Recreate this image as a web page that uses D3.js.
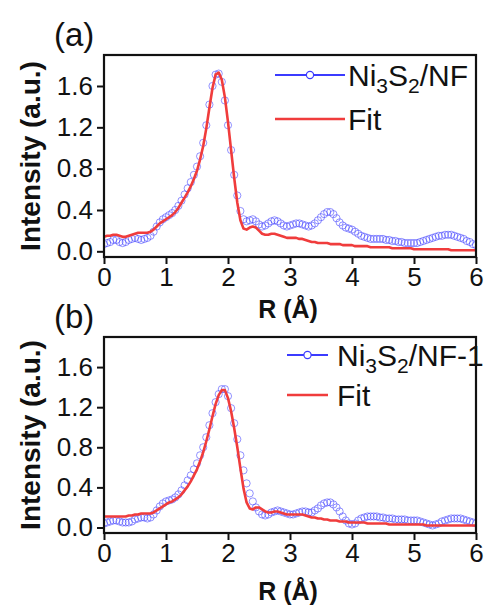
<!DOCTYPE html>
<html><head><meta charset="utf-8">
<script src="https://cdn.jsdelivr.net/npm/d3@7"></script>
<style>body{margin:0;background:#fff}svg{display:block}text{font-family:"Liberation Sans",Arial,sans-serif;fill:#111}</style>
</head><body>
<svg id="c" width="491" height="607"></svg>
<script>
const R = [0.00,0.05,0.10,0.15,0.20,0.25,0.30,0.35,0.40,0.45,0.50,0.55,0.60,0.65,0.70,0.75,0.80,0.85,0.90,0.95,
1.00,1.05,1.10,1.15,1.20,1.25,1.30,1.35,1.40,1.45,1.50,1.55,1.60,1.65,1.70,1.75,1.80,1.85,1.90,1.95,
2.00,2.05,2.10,2.15,2.20,2.25,2.30,2.35,2.40,2.45,2.50,2.55,2.60,2.65,2.70,2.75,2.80,2.85,2.90,2.95,
3.00,3.05,3.10,3.15,3.20,3.25,3.30,3.35,3.40,3.45,3.50,3.55,3.60,3.65,3.70,3.75,3.80,3.85,3.90,3.95,
4.00,4.05,4.10,4.15,4.20,4.25,4.30,4.35,4.40,4.45,4.50,4.55,4.60,4.65,4.70,4.75,4.80,4.85,4.90,4.95,
5.00,5.05,5.10,5.15,5.20,5.25,5.30,5.35,5.40,5.45,5.50,5.55,5.60,5.65,5.70,5.75,5.80,5.85,5.90,5.95,6.00];

const dataA = [0.07,0.08,0.09,0.11,0.11,0.09,0.08,0.09,0.11,0.12,0.13,0.12,0.11,0.12,0.13,0.15,0.19,0.24,0.28,0.31,
0.33,0.35,0.37,0.40,0.44,0.49,0.55,0.61,0.67,0.74,0.82,0.92,1.05,1.22,1.42,1.60,1.71,1.72,1.64,1.46,
1.22,0.98,0.74,0.54,0.39,0.31,0.29,0.30,0.31,0.29,0.26,0.24,0.25,0.27,0.29,0.30,0.29,0.27,0.25,0.24,
0.25,0.26,0.27,0.27,0.26,0.25,0.24,0.25,0.27,0.30,0.33,0.36,0.38,0.38,0.36,0.32,0.28,0.25,0.23,0.22,
0.21,0.19,0.17,0.15,0.14,0.13,0.12,0.12,0.12,0.12,0.12,0.11,0.11,0.10,0.10,0.09,0.09,0.08,0.08,0.08,
0.08,0.08,0.09,0.10,0.11,0.12,0.13,0.14,0.15,0.15,0.16,0.16,0.16,0.15,0.14,0.13,0.12,0.10,0.09,0.07,0.06];

const fitA = [0.14,0.15,0.15,0.16,0.16,0.15,0.14,0.14,0.15,0.16,0.17,0.18,0.18,0.18,0.18,0.19,0.21,0.24,0.27,0.29,
0.31,0.33,0.35,0.38,0.42,0.47,0.52,0.57,0.63,0.70,0.78,0.89,1.02,1.19,1.39,1.58,1.71,1.73,1.66,1.49,
1.25,0.98,0.71,0.47,0.30,0.22,0.21,0.23,0.24,0.23,0.20,0.17,0.16,0.16,0.17,0.17,0.16,0.15,0.14,0.13,
0.13,0.13,0.13,0.12,0.12,0.11,0.10,0.09,0.09,0.08,0.08,0.08,0.08,0.07,0.07,0.07,0.07,0.06,0.06,0.06,
0.06,0.05,0.05,0.05,0.05,0.05,0.04,0.04,0.04,0.04,0.04,0.04,0.04,0.03,0.03,0.03,0.03,0.03,0.03,0.03,
0.02,0.02,0.02,0.02,0.02,0.02,0.02,0.02,0.02,0.02,0.02,0.02,0.01,0.01,0.01,0.01,0.01,0.01,0.01,0.01,0.01];

const dataB = [0.04,0.05,0.06,0.07,0.07,0.06,0.05,0.05,0.05,0.06,0.08,0.09,0.10,0.10,0.09,0.10,0.13,0.17,0.21,0.24,
0.26,0.27,0.28,0.30,0.33,0.37,0.42,0.47,0.52,0.58,0.64,0.72,0.80,0.90,1.02,1.14,1.25,1.33,1.38,1.38,
1.31,1.19,1.04,0.88,0.72,0.57,0.44,0.34,0.26,0.20,0.16,0.13,0.12,0.13,0.15,0.16,0.17,0.16,0.15,0.14,
0.13,0.13,0.14,0.15,0.16,0.16,0.15,0.15,0.17,0.19,0.22,0.24,0.25,0.25,0.23,0.20,0.16,0.11,0.07,0.04,
0.03,0.04,0.07,0.09,0.10,0.11,0.11,0.11,0.11,0.10,0.10,0.09,0.09,0.09,0.08,0.08,0.08,0.08,0.07,0.07,
0.07,0.07,0.06,0.05,0.04,0.03,0.02,0.03,0.04,0.06,0.07,0.08,0.09,0.09,0.09,0.09,0.08,0.07,0.06,0.05,0.04];

const fitB = [0.11,0.11,0.11,0.11,0.11,0.11,0.11,0.11,0.12,0.12,0.13,0.13,0.14,0.14,0.14,0.14,0.15,0.17,0.19,0.21,
0.23,0.25,0.26,0.28,0.30,0.33,0.37,0.41,0.46,0.52,0.58,0.66,0.75,0.86,0.98,1.11,1.23,1.32,1.37,1.37,
1.29,1.16,0.99,0.80,0.59,0.39,0.25,0.19,0.18,0.20,0.20,0.18,0.16,0.15,0.15,0.16,0.16,0.15,0.14,0.13,
0.13,0.13,0.13,0.13,0.13,0.12,0.11,0.10,0.10,0.09,0.09,0.08,0.08,0.07,0.07,0.07,0.06,0.06,0.06,0.05,
0.05,0.05,0.05,0.05,0.05,0.04,0.04,0.04,0.04,0.04,0.04,0.04,0.03,0.03,0.03,0.03,0.03,0.03,0.03,0.03,
0.03,0.03,0.03,0.03,0.02,0.02,0.02,0.02,0.02,0.02,0.02,0.02,0.02,0.02,0.02,0.02,0.02,0.02,0.02,0.02,0.02];

const xTicks = [0,1,2,3,4,5,6];
const yTicks = [0.0,0.4,0.8,1.2,1.6];
const panelLabels = ["(a)","(b)"];
const sampleNames = [["Ni","3","S","2","/NF"],["Ni","3","S","2","/NF-1"]];
const fitLabel = "Fit";
const xTitle = "R (Å)";
const yTitle = "Intensity (a.u.)";

const svg = d3.select("#c");
const X0 = 104, X1 = 476;
const panels = [
  {top:55, bottom:257, titleY:61, data:dataA, fit:fitA, label:panelLabels[0], name:sampleNames[0], leg:{x0:275,x1:345,y:75,gap:44,tx:348}},
  {top:337, bottom:533, titleY:67, data:dataB, fit:fitB, label:panelLabels[1], name:sampleNames[1], leg:{x0:287,x1:328,y:355,gap:40,tx:337}}
];
const blue = "#3b3bff", red = "#f03c3c";

panels.forEach(p => {
  const x = d3.scaleLinear().domain([0,6]).range([X0,X1]);
  const y = d3.scaleLinear().domain([-0.055,1.9]).range([p.bottom,p.top]);
  const g = svg.append("g");
  const clipId = "clip"+p.top;
  svg.append("clipPath").attr("id",clipId).append("rect").attr("x",X0).attr("y",p.top).attr("width",X1-X0).attr("height",p.bottom-p.top);

  const plot = g.append("g").attr("clip-path",`url(#${clipId})`);
  plot.selectAll("circle.d").data(R).join("circle")
    .attr("cx",(d)=>x(d)).attr("cy",(d,i)=>y(p.data[i])).attr("r",3.6)
    .attr("fill","none").attr("stroke",blue).attr("stroke-opacity",0.55).attr("stroke-width",1);
  const line = d3.line().x((d)=>x(d)).y((d,i)=>y(p.fit[i]));
  plot.append("path").attr("d",line(R)).attr("fill","none").attr("stroke",red).attr("stroke-width",2.6).attr("stroke-linejoin","round");

  // axes
  const ax = g.append("g").attr("transform",`translate(0,${p.bottom})`)
    .call(d3.axisBottom(x).tickValues(xTicks).tickFormat(d3.format("d")).tickSize(7).tickPadding(3));
  const ay = g.append("g").attr("transform",`translate(${X0},0)`)
    .call(d3.axisLeft(y).tickValues(yTicks).tickFormat(d3.format(".1f")).tickSize(7).tickPadding(4));
  [ax,ay].forEach(a=>{
    a.select(".domain").remove();
    a.selectAll(".tick line").attr("stroke","#111").attr("stroke-width",2);
    a.selectAll(".tick text").attr("font-size",26).attr("fill","#111").style("font-family","'Liberation Sans',Arial,sans-serif");
  });
  ax.selectAll(".tick text").attr("dy","0.74em");
  g.append("rect").attr("x",X0).attr("y",p.top).attr("width",X1-X0).attr("height",p.bottom-p.top)
    .attr("fill","none").attr("stroke","#111").attr("stroke-width",2.2);

  // titles
  g.append("text").attr("x",(X0+X1)/2-2).attr("y",p.bottom+p.titleY).attr("text-anchor","middle")
    .attr("font-size",25).attr("font-weight","bold").text(xTitle);
  g.append("text").attr("transform",`translate(40,${(p.top+p.bottom)/2}) rotate(-90)`).attr("text-anchor","middle")
    .attr("font-size",28).attr("font-weight","bold").text(yTitle);
  g.append("text").attr("x",54).attr("y",p.top-9).attr("font-size",33).text(p.label);

  // legend
  const L = p.leg;
  g.append("line").attr("x1",L.x0).attr("x2",L.x1).attr("y1",L.y).attr("y2",L.y).attr("stroke",blue).attr("stroke-width",2.2);
  g.append("circle").attr("cx",(L.x0+L.x1)/2).attr("cy",L.y).attr("r",3.6).attr("fill","#fff").attr("stroke",blue).attr("stroke-width",1.2);
  const t = g.append("text").attr("x",L.tx).attr("y",L.y+11).attr("font-size",30);
  p.name.forEach((s,i)=>{
    const sub = (i===1||i===3);
    t.append("tspan").attr("font-size",sub?21:30).attr("dy",sub?7:(i>0?-7:0)).text(s);
  });
  g.append("line").attr("x1",L.x0).attr("x2",L.x1).attr("y1",L.y+L.gap).attr("y2",L.y+L.gap).attr("stroke",red).attr("stroke-width",2.6);
  g.append("text").attr("x",L.tx).attr("y",L.y+L.gap+11).attr("font-size",30).text(fitLabel);
});
</script>
</body></html>
